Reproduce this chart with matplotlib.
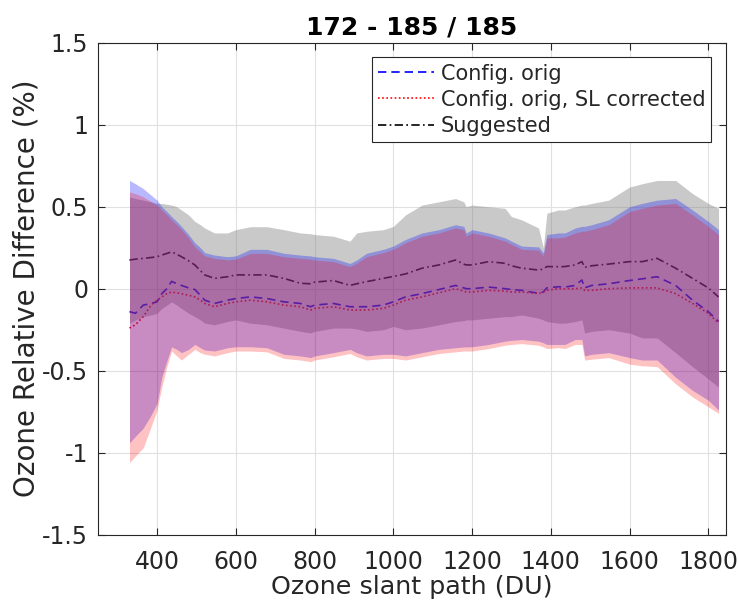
import numpy as np
import matplotlib
matplotlib.use("Agg")
import matplotlib.pyplot as plt

# Ozone slant path grid (DU)
slant_path = [330, 345, 365, 385, 400, 412, 425, 437, 450, 462, 480, 496, 510, 521,
              546, 579, 600, 637, 679, 722, 764, 790, 800, 848, 890, 907, 932, 975,
              1000, 1031, 1073, 1116, 1158, 1179, 1185, 1200, 1242, 1284, 1300, 1326,
              1369, 1381, 1390, 1419, 1436, 1462, 1479, 1486, 1504, 1547, 1600, 1632,
              1670, 1717, 1760, 1800, 1826]

# Config. orig: mean and band limits (%)
orig_mean = [-0.14, -0.15, -0.10, -0.09, -0.08, -0.03, 0.00, 0.045, 0.03, 0.02, 0.005,
             -0.005, -0.04, -0.07, -0.09, -0.07, -0.06, -0.05, -0.06, -0.08, -0.09, -0.11,
             -0.10, -0.09, -0.11, -0.11, -0.11, -0.10, -0.08, -0.05, -0.03, -0.005, 0.02,
             0.005, 0.00, 0.00, 0.01, 0.00, -0.005, -0.01, -0.028, -0.02, 0.005, 0.012,
             0.01, 0.02, 0.053, 0.005, 0.02, 0.03, 0.05, 0.06, 0.073, 0.02, -0.07, -0.14,
             -0.20]
orig_hi = [0.66, 0.64, 0.61, 0.57, 0.54, 0.50, 0.47, 0.44, 0.41, 0.38, 0.33, 0.28, 0.25,
           0.22, 0.205, 0.195, 0.20, 0.24, 0.24, 0.216, 0.205, 0.20, 0.195, 0.185, 0.154,
           0.175, 0.216, 0.24, 0.26, 0.30, 0.34, 0.36, 0.39, 0.38, 0.34, 0.36, 0.34, 0.31,
           0.29, 0.26, 0.255, 0.22, 0.33, 0.34, 0.34, 0.37, 0.38, 0.38, 0.39, 0.42, 0.50,
           0.52, 0.54, 0.55, 0.48, 0.41, 0.36]
orig_lo = [-0.94, -0.90, -0.85, -0.77, -0.70, -0.54, -0.44, -0.355, -0.37, -0.39, -0.37,
           -0.34, -0.36, -0.374, -0.38, -0.36, -0.354, -0.354, -0.36, -0.40, -0.41, -0.42,
           -0.41, -0.39, -0.37, -0.39, -0.41, -0.40, -0.40, -0.41, -0.39, -0.37, -0.36,
           -0.355, -0.355, -0.354, -0.34, -0.32, -0.315, -0.31, -0.32, -0.33, -0.34, -0.34,
           -0.34, -0.31, -0.31, -0.41, -0.40, -0.39, -0.42, -0.435, -0.435, -0.54, -0.62,
           -0.68, -0.74]

# Config. orig, SL corrected: mean and band limits (%)
sl_mean = [-0.24, -0.22, -0.17, -0.10, -0.07, -0.05, -0.03, -0.02, -0.025, -0.03, -0.04,
           -0.05, -0.07, -0.09, -0.11, -0.09, -0.08, -0.07, -0.08, -0.10, -0.11, -0.13,
           -0.12, -0.11, -0.13, -0.13, -0.13, -0.12, -0.10, -0.07, -0.05, -0.025, 0.00,
           -0.015, -0.02, -0.02, -0.01, -0.015, -0.02, -0.02, -0.03, -0.02, -0.01, 0.00,
           0.00, 0.00, 0.005, -0.01, -0.01, 0.00, 0.005, 0.005, 0.005, -0.03, -0.09,
           -0.15, -0.21]
sl_hi = [0.59, 0.58, 0.56, 0.53, 0.51, 0.48, 0.45, 0.42, 0.39, 0.36, 0.31, 0.255, 0.225,
         0.20, 0.185, 0.175, 0.18, 0.215, 0.215, 0.195, 0.185, 0.18, 0.175, 0.165, 0.135,
         0.155, 0.195, 0.22, 0.24, 0.28, 0.32, 0.34, 0.37, 0.36, 0.32, 0.34, 0.32, 0.29,
         0.27, 0.24, 0.235, 0.20, 0.31, 0.31, 0.315, 0.34, 0.35, 0.35, 0.36, 0.39, 0.47,
         0.49, 0.51, 0.52, 0.45, 0.38, 0.33]
sl_lo = [-1.06, -1.02, -0.97, -0.84, -0.74, -0.60, -0.475, -0.38, -0.41, -0.435, -0.40,
         -0.37, -0.39, -0.40, -0.41, -0.39, -0.38, -0.38, -0.385, -0.425, -0.435, -0.445,
         -0.435, -0.415, -0.395, -0.415, -0.435, -0.425, -0.425, -0.435, -0.415, -0.395,
         -0.385, -0.38, -0.38, -0.38, -0.365, -0.345, -0.34, -0.335, -0.345, -0.355,
         -0.365, -0.36, -0.365, -0.34, -0.34, -0.435, -0.43, -0.42, -0.46, -0.47, -0.475,
         -0.58, -0.66, -0.72, -0.76]

# Suggested: mean and band limits (%)
sug_mean = [0.175, 0.18, 0.185, 0.19, 0.195, 0.205, 0.215, 0.225, 0.21, 0.195, 0.17,
            0.145, 0.11, 0.084, 0.063, 0.073, 0.084, 0.084, 0.084, 0.063, 0.033, 0.03,
            0.04, 0.05, 0.02, 0.03, 0.043, 0.063, 0.075, 0.09, 0.125, 0.145, 0.175, 0.15,
            0.145, 0.145, 0.165, 0.155, 0.14, 0.125, 0.114, 0.12, 0.135, 0.134, 0.135,
            0.145, 0.165, 0.13, 0.14, 0.15, 0.165, 0.165, 0.185, 0.125, 0.063, 0.005,
            -0.05]
sug_hi = [0.56, 0.55, 0.54, 0.53, 0.52, 0.52, 0.515, 0.51, 0.50, 0.48, 0.45, 0.41, 0.39,
          0.37, 0.34, 0.34, 0.36, 0.378, 0.378, 0.36, 0.34, 0.335, 0.33, 0.32, 0.29,
          0.34, 0.35, 0.36, 0.38, 0.45, 0.51, 0.53, 0.55, 0.53, 0.50, 0.51, 0.50, 0.49,
          0.44, 0.42, 0.37, 0.25, 0.46, 0.48, 0.48, 0.50, 0.51, 0.51, 0.52, 0.54, 0.62,
          0.64, 0.66, 0.66, 0.58, 0.52, 0.49]
sug_lo = [-0.21, -0.19, -0.17, -0.16, -0.15, -0.12, -0.10, -0.08, -0.10, -0.12, -0.15,
          -0.17, -0.19, -0.21, -0.22, -0.20, -0.19, -0.21, -0.22, -0.24, -0.26, -0.27,
          -0.26, -0.24, -0.24, -0.245, -0.26, -0.25, -0.23, -0.25, -0.24, -0.22, -0.20,
          -0.195, -0.19, -0.19, -0.18, -0.17, -0.17, -0.16, -0.18, -0.19, -0.20, -0.21,
          -0.21, -0.20, -0.19, -0.27, -0.26, -0.25, -0.27, -0.30, -0.30, -0.39, -0.475,
          -0.55, -0.60]

x_ticks = [400, 600, 800, 1000, 1200, 1400, 1600, 1800]
y_ticks = [-1.5, -1, -0.5, 0, 0.5, 1, 1.5]
y_tick_labels = ["-1.5", "-1", "-0.5", "0", "0.5", "1", "1.5"]

plt.rcParams["font.family"] = ["DejaVu Sans"]
text_col = (0.15, 0.15, 0.15)

fig = plt.figure(figsize=(7.38, 6.01), dpi=100)
ax = fig.add_axes([98 / 738, 66.3 / 601, 628 / 738, 492 / 601])

x = np.array(slant_path)

# mean curves underneath the translucent bands
l1, = ax.plot(x, orig_mean, ls=(0, (5, 3)), color=(0, 0, 1), lw=1.2, zorder=2,
              label="Config. orig")
l2, = ax.plot(x, sl_mean, ls=(0, (1, 1.5)), color=(1, 0, 0), lw=1.2, zorder=2,
              label="Config. orig, SL corrected")
l3, = ax.plot(x, sug_mean, ls=(0, (5, 2, 1, 2)), color=(0, 0, 0), lw=1.2, zorder=2,
              label="Suggested")

# spread bands: suggested first, then the two original configurations
ax.fill_between(x, sug_lo, sug_hi, color=(0.5, 0.5, 0.5), alpha=0.42, lw=0, zorder=3)
ax.fill_between(x, orig_lo, orig_hi, color=(0, 0, 1), alpha=0.28, lw=0, zorder=3)
ax.fill_between(x, sl_lo, sl_hi, color=(1, 0, 0), alpha=0.24, lw=0, zorder=3)

ax.set_xlim(250, 1845)
ax.set_ylim(-1.5, 1.5)
ax.set_xticks(x_ticks)
ax.set_yticks(y_ticks)
ax.set_yticklabels(y_tick_labels)
ax.grid(True, color=(0.88, 0.88, 0.88), lw=0.8, zorder=0)
ax.set_axisbelow(True)
ax.tick_params(direction="in", top=True, right=True, length=5, width=0.8,
               colors=text_col, labelsize=17, pad=11)
ax.tick_params(axis="y", pad=7)
for sp in ax.spines.values():
    sp.set_color(text_col)
    sp.set_linewidth(0.8)

ax.set_xlabel("Ozone slant path (DU)", fontsize=18.3, color=text_col, labelpad=1)
ax.set_ylabel("Ozone Relative Difference (%)", fontsize=20, color=text_col, labelpad=1)
ax.set_title("172 - 185 / 185", fontsize=18, fontweight="bold", color="black", pad=6)

leg = ax.legend(handles=[l1, l2, l3], loc="upper right", fontsize=15,
                frameon=True, fancybox=False, edgecolor=text_col, framealpha=1,
                borderpad=0.3, labelspacing=0.3, handlelength=2.7, handletextpad=0.3,
                borderaxespad=0.7)
leg.get_frame().set_linewidth(0.8)
leg.set_zorder(10)
for t in leg.get_texts():
    t.set_color(text_col)

fig.savefig("out.png", dpi=100)
